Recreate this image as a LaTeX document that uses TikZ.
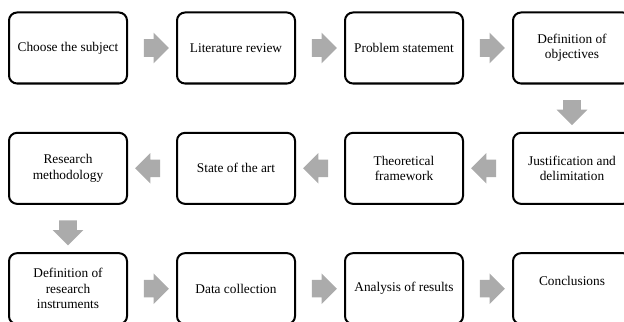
\documentclass[tikz,border=0pt]{standalone}
\usepackage{fontspec}
\setmainfont{Liberation Serif}
\usepackage{tikz}
\usetikzlibrary{shapes,arrows,positioning,calc}

\begin{document}
\begin{tikzpicture}[
    node distance=35.5pt and 36pt,
    stage/.style={rectangle, draw, line width=1.5pt, rounded corners=6pt, minimum width=88.5pt, minimum height=53.25pt, align=center, font=\fontsize{10}{11.5}\selectfont},
    garrow/.style={single arrow, fill=black!33, draw=none, inner xsep=0pt, inner ysep=6.4pt, minimum height=18.75pt, single arrow head extend=4.9pt}
]
    \useasboundingbox (0,0) rectangle (468pt,-240.75pt);
    % first row, left to right
    \node[stage] (subject) at (51pt,-36pt) {Choose the subject};
    \node[stage, right=of subject] (review) {Literature review};
    \node[stage, right=of review] (problem) {Problem statement};
    \node[stage, right=of problem] (objectives) {Definition of\\objectives};
    % second row, right to left
    \node[stage, below=of objectives] (justif) {Justification and\\delimitation};
    \node[stage, left=of justif] (framework) {Theoretical\\framework};
    \node[stage, left=of framework] (art) {State of the art};
    \node[stage, left=of art] (method) {Research\\methodology};
    % third row, left to right
    \node[stage, below=of method] (instr) {Definition of\\research\\instruments};
    \node[stage, right=of instr] (data) {Data collection};
    \node[stage, right=of data] (analysis) {Analysis of results};
    \node[stage, right=of analysis] (concl) {Conclusions\\\mbox{}};

    \node[garrow] (a1) at ($(subject)!0.5!(review)$) {};
    \node[garrow] (a2) at ($(review)!0.5!(problem)$) {};
    \node[garrow] (a3) at ($(problem)!0.5!(objectives)$) {};
    \node[garrow, rotate=-90] (a4) at ($(objectives)!0.5!(justif)$) {};
    \node[garrow, rotate=180] (a5) at ($(justif)!0.5!(framework)$) {};
    \node[garrow, rotate=180] (a6) at ($(framework)!0.5!(art)$) {};
    \node[garrow, rotate=180] (a7) at ($(art)!0.5!(method)$) {};
    \node[garrow, rotate=-90] (a8) at ($(method)!0.5!(instr)$) {};
    \node[garrow] (a9) at ($(instr)!0.5!(data)$) {};
    \node[garrow] (a10) at ($(data)!0.5!(analysis)$) {};
    \node[garrow] (a11) at ($(analysis)!0.5!(concl)$) {};
\end{tikzpicture}
\end{document}
